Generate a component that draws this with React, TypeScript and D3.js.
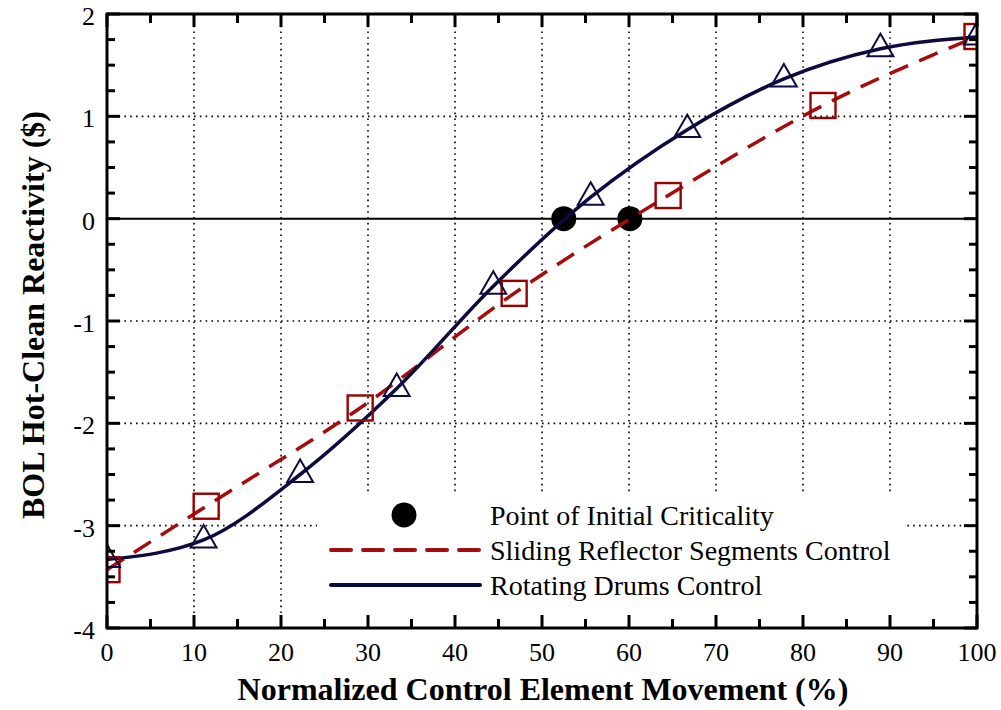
import * as d3 from "d3";

const drumX = [0, 11.1, 22.2, 33.3, 44.4, 55.6, 66.7, 77.8, 88.9, 100];
const drumY = [-3.33, -3.14, -2.5, -1.66, -0.66, 0.21, 0.87, 1.365, 1.66, 1.775];
const reflX = [0, 11.4, 29.1, 46.8, 64.5, 82.3, 100];
const reflY = [-3.43, -2.81, -1.85, -0.73, 0.226, 1.106, 1.78];
const critX = [52.5, 60.1];
const critY = [0, 0];
const xTicks = [0, 10, 20, 30, 40, 50, 60, 70, 80, 90, 100];
const yTicks = [-4, -3, -2, -1, 0, 1, 2];

const W = 1001;
const H = 710;
const M = { left: 107, top: 14, right: 24, bottom: 82 };
const NAVY = "#0b0b3d";
const RED = "#a50d0d";
const SERIF = "Liberation Serif";

export default function App() {
  const x = d3.scaleLinear().domain([0, 100]).range([M.left, W - M.right]);
  const y = d3.scaleLinear().domain([-4, 2]).range([H - M.bottom, M.top]);
  const [x0, x1] = x.range();
  const [y0, y1] = [y(2), y(-4)];

  const drumPath = d3
    .line<number>()
    .curve(d3.curveMonotoneX)
    .x((_, i) => x(drumX[i]))
    .y((d) => y(d))(drumY) ?? "";
  const reflPath = d3
    .line<number>()
    .curve(d3.curveMonotoneX)
    .x((_, i) => x(reflX[i]))
    .y((d) => y(d))(reflY) ?? "";
  const tri = d3.symbol(d3.symbolTriangle, 290)() ?? "";

  const xMinor = d3.range(5, 100, 10);
  const yMinor = d3.range(-4, 2.001, 0.25).filter((v) => Math.abs(v - Math.round(v)) > 1e-6);

  const legend = { x: 317, y: 493 };

  return (
    <svg width={W} height={H} style={{ position: "absolute", left: 0, top: 0, background: "#fff" }}>
      <defs>
        <clipPath id="plot">
          <rect x={x0} y={y0} width={x1 - x0} height={y1 - y0} />
        </clipPath>
      </defs>
      <rect width={W} height={H} fill="#fff" />
      {/* grid */}
      <g stroke="#000" strokeWidth={1.6} strokeDasharray="1.6 4.2">
        {xTicks.slice(1, -1).map((t) => (
          <line key={"gx" + t} x1={x(t)} x2={x(t)} y1={y0} y2={y1} />
        ))}
        {yTicks.slice(1, -1).filter((t) => t !== 0).map((t) => (
          <line key={"gy" + t} x1={x0} x2={x1} y1={y(t)} y2={y(t)} />
        ))}
      </g>
      <line x1={x0} x2={x1} y1={y(0)} y2={y(0)} stroke="#000" strokeWidth={2} />
      {/* legend background hides the grid */}
      <rect x={legend.x} y={legend.y} width={907 - legend.x} height={y1 - legend.y} fill="#fff" />

      <g clipPath="url(#plot)">
        {critX.map((c, i) => (
          <circle key={"c" + i} cx={x(c)} cy={y(critY[i])} r={12.5} fill="#000" />
        ))}
        <path d={reflPath} fill="none" stroke={RED} strokeWidth={3.5} strokeDasharray="20 12" />
        <path d={drumPath} fill="none" stroke={NAVY} strokeWidth={3.5} />
        {reflX.map((v, i) => (
          <rect
            key={"s" + i}
            x={x(v) - 12.5}
            y={y(reflY[i]) - 12.5}
            width={25}
            height={25}
            fill="none"
            stroke="#990000"
            strokeWidth={2.4}
          />
        ))}
        {drumX.map((v, i) => (
          <path
            key={"t" + i}
            d={tri}
            transform={`translate(${x(v)},${y(drumY[i])})`}
            fill="none"
            stroke={NAVY}
            strokeWidth={2}
          />
        ))}
      </g>

      {/* ticks on all four sides, pointing inward */}
      <g stroke="#000" strokeWidth={3}>
        {xTicks.map((t) => (
          <g key={"xt" + t}>
            <line x1={x(t)} x2={x(t)} y1={y1} y2={y1 - 13} />
            <line x1={x(t)} x2={x(t)} y1={y0} y2={y0 + 13} />
          </g>
        ))}
        {xMinor.map((t) => (
          <g key={"xm" + t}>
            <line x1={x(t)} x2={x(t)} y1={y1} y2={y1 - 9} />
            <line x1={x(t)} x2={x(t)} y1={y0} y2={y0 + 9} />
          </g>
        ))}
        {yTicks.map((t) => (
          <g key={"yt" + t}>
            <line x1={x0} x2={x0 + 13} y1={y(t)} y2={y(t)} />
            <line x1={x1} x2={x1 - 13} y1={y(t)} y2={y(t)} />
          </g>
        ))}
        {yMinor.map((t) => (
          <g key={"ym" + t}>
            <line x1={x0} x2={x0 + 8} y1={y(t)} y2={y(t)} />
            <line x1={x1} x2={x1 - 8} y1={y(t)} y2={y(t)} />
          </g>
        ))}
      </g>
      <rect x={x0} y={y0} width={x1 - x0} height={y1 - y0} fill="none" stroke="#000" strokeWidth={3} />

      {/* tick labels */}
      <g fontFamily={SERIF} fontSize={26} fill="#000">
        {xTicks.map((t) => (
          <text key={"xl" + t} x={x(t)} y={y1 + 33} textAnchor="middle">
            {t}
          </text>
        ))}
        {yTicks.map((t) => (
          <text key={"yl" + t} x={x0 - 12} y={y(t) + 11} textAnchor="end">
            {t}
          </text>
        ))}
      </g>

      {/* axis titles */}
      <text
        x={(x0 + x1) / 2 + 1}
        y={700}
        textAnchor="middle"
        fontFamily={SERIF}
        fontWeight="bold"
        fontSize={32}
      >
        Normalized Control Element Movement (%)
      </text>
      <text
        transform={`translate(44,315) rotate(-90)`}
        textAnchor="middle"
        fontFamily={SERIF}
        fontWeight="bold"
        fontSize={32}
      >
        BOL Hot-Clean Reactivity ($)
      </text>

      {/* legend */}
      <g fontFamily={SERIF} fontSize={28} fill="#000">
        <circle cx={404} cy={515} r={12.5} fill="#000" />
        <text x={490} y={525}>Point of Initial Criticality</text>
        <line x1={331} x2={480} y1={550} y2={550} stroke={RED} strokeWidth={4} strokeDasharray="20 12" strokeLinecap="round" />
        <text x={490} y={560}>Sliding Reflector Segments Control</text>
        <line x1={331} x2={480} y1={585} y2={585} stroke={NAVY} strokeWidth={4} strokeLinecap="round" />
        <text x={490} y={595}>Rotating Drums Control</text>
      </g>
    </svg>
  );
}
